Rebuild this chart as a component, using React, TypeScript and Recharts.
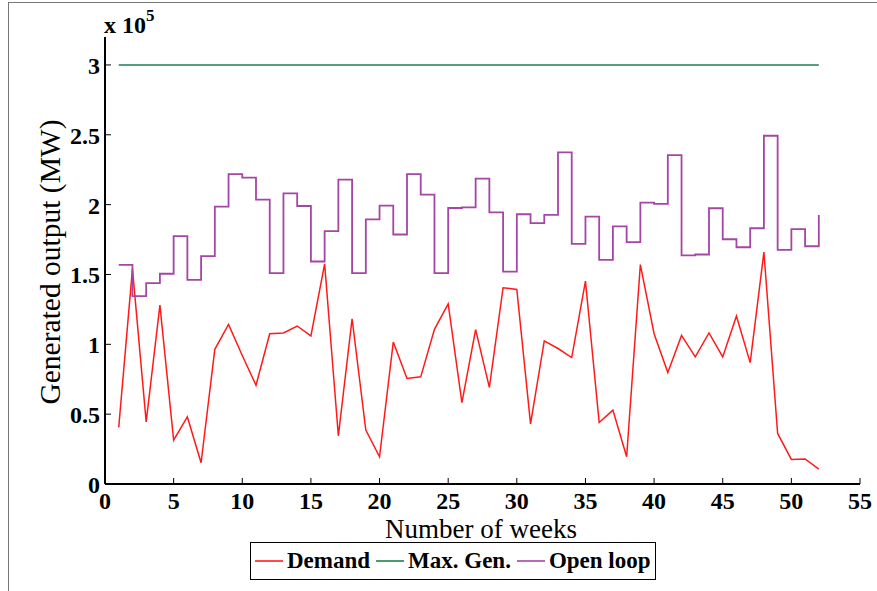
import { LineChart, Line, XAxis, YAxis } from "recharts";

const weeks = Array.from({ length: 52 }, (_, i) => i + 1);

// values in units of 1e5 MW
const demand = [
  0.405, 1.54, 0.445, 1.28, 0.314, 0.48, 0.152, 0.964, 1.143, 0.92,
  0.707, 1.076, 1.081, 1.131, 1.06, 1.576, 0.345, 1.183, 0.386, 0.195,
  1.016, 0.755, 0.767, 1.107, 1.29, 0.583, 1.105, 0.692, 1.405, 1.393,
  0.43, 1.024, 0.97, 0.905, 1.452, 0.44, 0.529, 0.195, 1.571, 1.076,
  0.798, 1.064, 0.91, 1.081, 0.91, 1.202, 0.869, 1.66, 0.362, 0.176,
  0.179, 0.107,
];

const maxGen = weeks.map(() => 3);

const openLoop = [
  1.569, 1.345, 1.438, 1.505, 1.774, 1.462, 1.631, 1.986, 2.219, 2.193,
  2.036, 1.51, 2.081, 1.99, 1.593, 1.81, 2.179, 1.51, 1.895, 1.993,
  1.786, 2.219, 2.071, 1.51, 1.976, 1.981, 2.186, 1.945, 1.521, 1.931,
  1.867, 1.926, 2.374, 1.719, 1.914, 1.605, 1.845, 1.731, 2.014, 2.005,
  2.355, 1.636, 1.643, 1.974, 1.752, 1.695, 1.831, 2.493, 1.676, 1.824,
  1.702, 1.926,
];

const xTicks = [0, 5, 10, 15, 20, 25, 30, 35, 40, 45, 50, 55];
const yTicks = [0, 0.5, 1, 1.5, 2, 2.5, 3];

const data = weeks.map((w, i) => ({
  week: w,
  demand: demand[i],
  maxGen: maxGen[i],
  openLoop: openLoop[i],
}));

const RED = "#ff1a1a";
const GREEN = "#1f7f4f";
const PURPLE = "#a545a5";
const FONT = "'Liberation Serif', 'DejaVu Serif', serif";

const legendItems = [
  { label: "Demand", color: RED },
  { label: "Max. Gen.", color: GREEN },
  { label: "Open loop", color: PURPLE },
];

function BottomTick({ x, y, payload }: any) {
  return (
    <g>
      <line x1={x} y1={y} x2={x} y2={y - 6} stroke="#000" strokeWidth={1} />
      <text x={x} y={y + 25} textAnchor="middle" fontFamily={FONT} fontWeight="bold" fontSize={24} fill="#000">
        {payload.value}
      </text>
    </g>
  );
}

function LeftTick({ x, y, payload }: any) {
  return (
    <g>
      <line x1={x} y1={y} x2={x + 6} y2={y} stroke="#000" strokeWidth={1} />
      <text x={x - 5} y={y + 9} textAnchor="end" fontFamily={FONT} fontWeight="bold" fontSize={24} fill="#000">
        {payload.value}
      </text>
    </g>
  );
}

function TopTick({ x, y }: any) {
  return <line x1={x} y1={y} x2={x} y2={y + 6} stroke="#000" strokeWidth={1} />;
}

function RightTick({ x, y }: any) {
  return <line x1={x} y1={y} x2={x - 6} y2={y} stroke="#000" strokeWidth={1} />;
}

function LegendBox() {
  return (
    <div
      style={{
        position: "absolute",
        left: 250,
        top: 542,
        display: "flex",
        alignItems: "center",
        border: "1.5px solid #000",
        height: 38,
        width: 406,
        boxSizing: "border-box",
        padding: "0 4px",
        background: "#fff",
        fontFamily: FONT,
        fontWeight: "bold",
        fontSize: 23,
        whiteSpace: "nowrap",
      }}
    >
      {legendItems.map((it) => (
        <div key={it.label} style={{ display: "flex", alignItems: "center", marginRight: 6 }}>
          <span style={{ display: "inline-block", width: 28, height: 0, borderTop: `2px solid ${it.color}`, marginRight: 4, opacity: 0.8 }} />
          <span>{it.label}</span>
        </div>
      ))}
    </div>
  );
}

export default function App() {
  return (
    <div style={{ position: "absolute", left: 0, top: 0, width: 877, height: 591, background: "#fff", overflow: "hidden" }}>
      <div style={{ position: "absolute", left: 8, top: 2, width: 880, height: 600, borderLeft: "1.5px solid #777", borderTop: "1.5px solid #777" }} />
      <LineChart width={877} height={591} data={data} margin={{ top: 37, right: 17, left: 55, bottom: 77 }}>
        <XAxis
          dataKey="week"
          type="number"
          domain={[0, 55]}
          ticks={xTicks}
          tickLine={false}
          tickSize={0}
          tickMargin={0}
          height={30}
          axisLine={{ stroke: "#000", strokeWidth: 2 }}
          tick={<BottomTick />}
          interval={0}
        />
        <XAxis
          xAxisId="top"
          orientation="top"
          type="number"
          domain={[0, 55]}
          ticks={xTicks}
          tickLine={false}
          tickSize={0}
          height={0}
          axisLine={{ stroke: "#000", strokeWidth: 2 }}
          tick={<TopTick />}
          interval={0}
        />
        <YAxis
          type="number"
          domain={[0, 3.2]}
          ticks={yTicks}
          tickLine={false}
          tickSize={0}
          tickMargin={0}
          width={50}
          axisLine={{ stroke: "#000", strokeWidth: 2 }}
          tick={<LeftTick />}
          interval={0}
        />
        <YAxis
          yAxisId="right"
          orientation="right"
          type="number"
          domain={[0, 3.2]}
          ticks={yTicks}
          tickLine={false}
          tickSize={0}
          width={0}
          axisLine={{ stroke: "#000", strokeWidth: 1.5 }}
          tick={<RightTick />}
          interval={0}
        />
        <Line dataKey="demand" type="linear" stroke={RED} strokeWidth={1.5} dot={false} isAnimationActive={false} />
        <Line dataKey="maxGen" type="linear" stroke={GREEN} strokeWidth={1.5} dot={false} isAnimationActive={false} />
        <Line dataKey="openLoop" type="stepAfter" stroke={PURPLE} strokeWidth={1.8} dot={false} isAnimationActive={false} />
        <text x={481} y={538} textAnchor="middle" fontFamily={FONT} fontSize={27} fill="#000">
          Number of weeks
        </text>
        <text
          x={60}
          y={262}
          textAnchor="middle"
          fontFamily={FONT}
          fontSize={29.5}
          fill="#000"
          transform="rotate(-90 60 262)"
        >
          Generated output (MW)
        </text>
        <text x={104} y={33} fontFamily={FONT} fontWeight="bold" fontSize={24} fill="#000">
          x 10
          <tspan dy={-12} fontSize={17}>5</tspan>
        </text>
      </LineChart>
      <LegendBox />
    </div>
  );
}
